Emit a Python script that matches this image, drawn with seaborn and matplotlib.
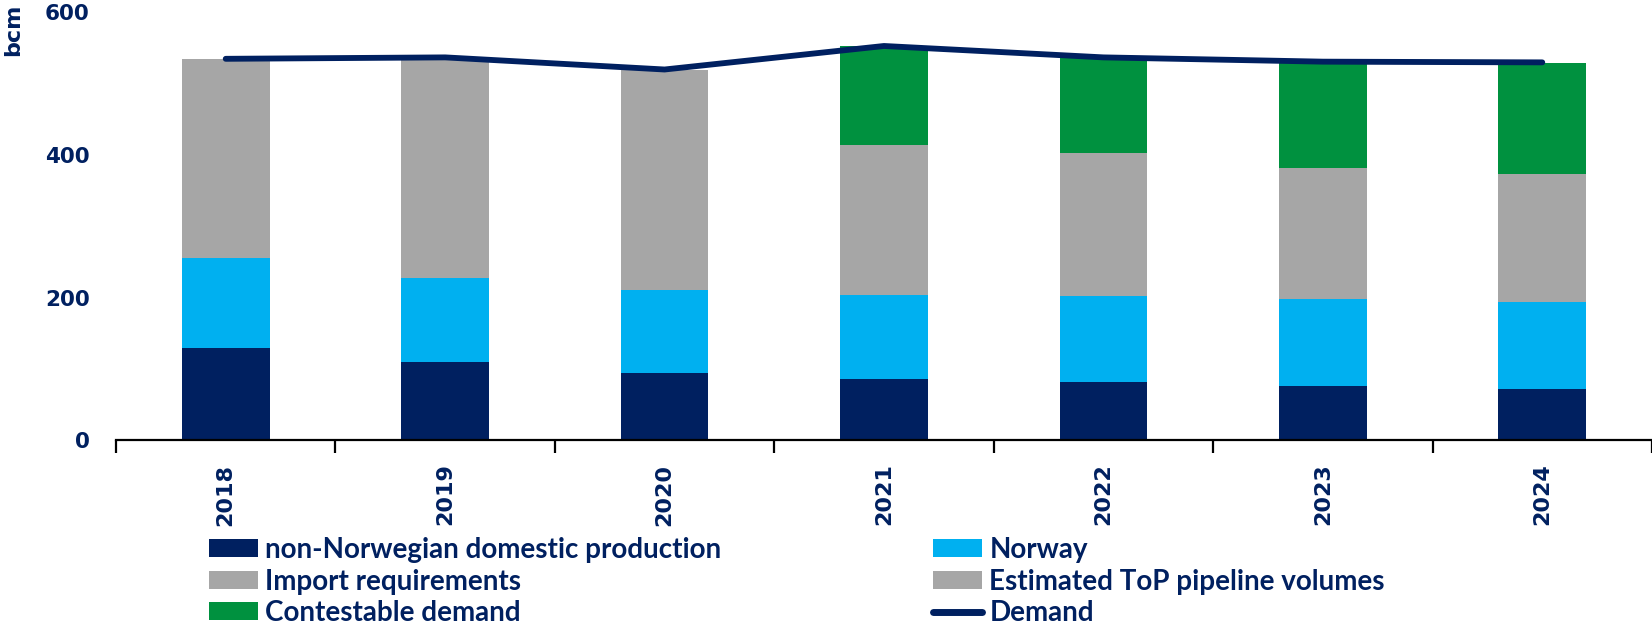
import numpy as np
import pandas as pd
import matplotlib
matplotlib.use("Agg")
import matplotlib.pyplot as plt
import seaborn as sns
from matplotlib.patches import Patch
from matplotlib.lines import Line2D
from matplotlib.ticker import FixedLocator

# ---- data (bcm) ----
years = ["2018", "2019", "2020", "2021", "2022", "2023", "2024"]
non_norwegian = [129, 110, 94, 86, 81, 76, 72]
norway = [126, 118, 116, 117, 121, 122, 122]
import_req = [280, 305, 310, 0, 0, 0, 0]
top_pipeline = [0, 0, 0, 211, 201, 184, 179]
contestable = [0, 0, 0, 139, 133, 148, 156]
demand = [535, 537, 520, 553, 537, 531, 530]

labels = ["non-Norwegian domestic production", "Norway", "Import requirements",
          "Estimated ToP pipeline volumes", "Contestable demand", "Demand"]

NAVY = "#002060"
SKY = "#00B0F0"
GREY = "#A6A6A6"
GREEN = "#00913F"

sns.set_theme(style="white")
plt.rcParams["font.family"] = ["DejaVu Sans"]

fig = plt.figure(figsize=(16.52, 6.28), dpi=100)
ax = fig.add_axes([116 / 1652, 188 / 628, 1536 / 1652, 427.5 / 628])

df = pd.DataFrame({"year": years})
layers = [
    (non_norwegian, NAVY),
    (norway, SKY),
    (import_req, GREY),
    (top_pipeline, GREY),
    (contestable, GREEN),
]
bottom = np.zeros(len(years))
for vals, col in layers:
    vals = np.asarray(vals, dtype=float)
    sns.barplot(x=df["year"], y=vals, color=col, width=0.4, bottom=bottom,
                saturation=1, linewidth=0, ax=ax, errorbar=None)
    bottom = bottom + vals

sns.lineplot(x=np.arange(len(years)), y=demand, color=NAVY, linewidth=4.2,
             ax=ax, solid_capstyle="round", solid_joinstyle="round")

ax.set_xlim(-0.5, len(years) - 0.5)
ax.set_ylim(0, 600)
ax.set_yticks([0, 200, 400, 600])
ax.set_xlabel("")
ax.set_ylabel("")

for s in ["top", "right", "left"]:
    ax.spines[s].set_visible(False)
ax.spines["bottom"].set_color("black")
ax.spines["bottom"].set_linewidth(1.6)

ax.set_xticks(range(len(years)))
ax.set_xticklabels(years, rotation=90, fontsize=16, fontweight="bold", color=NAVY)
ax.xaxis.set_minor_locator(FixedLocator(np.arange(-0.5, len(years), 1.0)))
ax.tick_params(axis="x", which="major", length=0, pad=17)
ax.tick_params(axis="x", which="minor", length=9, width=1.6, color="black",
               direction="out", bottom=True)
ax.tick_params(axis="y", length=0, pad=19)
for t in ax.get_yticklabels():
    t.set_fontsize(15.5)
    t.set_fontweight("bold")
    t.set_color(NAVY)

fig.text(13 / 1652, 1 - 4 / 628, "bcm", rotation=90, ha="center", va="top",
         fontsize=16, fontweight="bold", color=NAVY)

# ---- legend (two columns) ----
h_nn = Patch(facecolor=NAVY, edgecolor="none")
h_no = Patch(facecolor=SKY, edgecolor="none")
h_ir = Patch(facecolor=GREY, edgecolor="none")
h_top = Patch(facecolor=GREY, edgecolor="none")
h_cd = Patch(facecolor=GREEN, edgecolor="none")
h_dm = Line2D([0], [0], color=NAVY, linewidth=5, solid_capstyle="round")

leg_kw = dict(frameon=False, loc="upper left", borderpad=0, borderaxespad=0,
              handlelength=1.78, handleheight=0.61, handletextpad=0.25,
              labelspacing=0.2, labelcolor=NAVY,
              prop={"family": "Lato", "weight": "bold", "size": 20})
leg1 = fig.legend([h_nn, h_ir, h_cd], [labels[0], labels[2], labels[4]],
                  bbox_to_anchor=(209 / 1652, 1 - 537 / 628), **leg_kw)
leg2 = fig.legend([h_no, h_top, h_dm], [labels[1], labels[3], labels[5]],
                  bbox_to_anchor=(933 / 1652, 1 - 537 / 628), **leg_kw)

fig.savefig("out.png", dpi=100, facecolor="white")
